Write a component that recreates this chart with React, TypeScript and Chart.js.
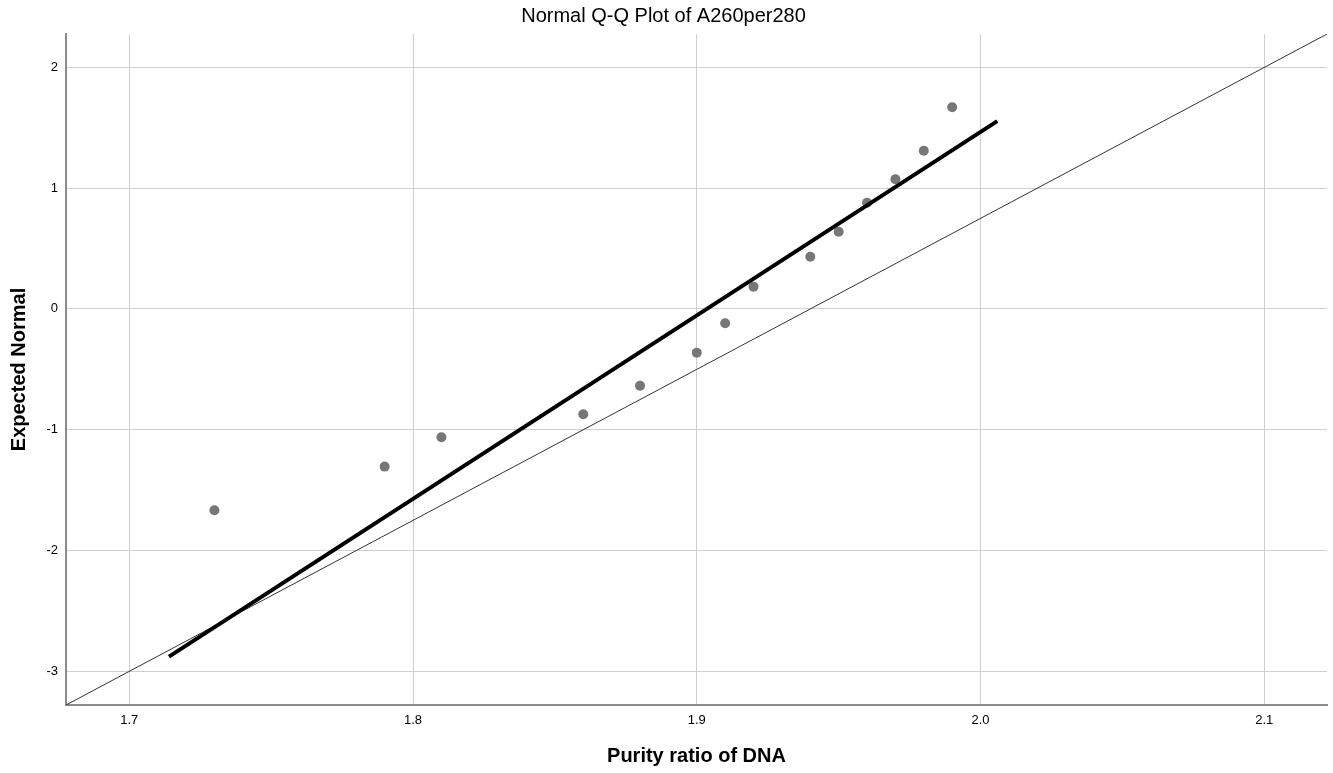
import React, { useEffect, useRef } from "react";
import { Chart, registerables } from "chart.js";

Chart.register(...registerables);

const purity = [1.73, 1.79, 1.81, 1.86, 1.88, 1.9, 1.91, 1.92, 1.94, 1.95, 1.96, 1.97, 1.98, 1.99];
const expectedNormal = [-1.667, -1.306, -1.063, -0.873, -0.636, -0.363, -0.119, 0.184, 0.432, 0.639, 0.879, 1.073, 1.31, 1.669];
const fitLineX = [1.714, 2.0059];
const fitLineY = [-2.879, 1.555];
const refLineX = [1.6777, 2.1221];
const refLineY = [-3.28, 2.276];
const xTicks = [1.7, 1.8, 1.9, 2.0, 2.1];
const yTicks = [-3, -2, -1, 0, 1, 2];

const FONT = "'Liberation Sans', Arial, sans-serif";

export default function App() {
  const ref = useRef<HTMLCanvasElement | null>(null);
  useEffect(() => {
    document.body.style.margin = "0";
    const ctx = ref.current!;
    const chart = new Chart(ctx, {
      type: "scatter",
      data: {
        datasets: [
          {
            data: fitLineX.map((x, i) => ({ x, y: fitLineY[i] })),
            showLine: true,
            borderColor: "#000",
            borderWidth: 4,
            pointRadius: 0,
          },
          {
            data: refLineX.map((x, i) => ({ x, y: refLineY[i] })),
            showLine: true,
            borderColor: "#333",
            borderWidth: 1,
            pointRadius: 0,
          },
          {
            data: purity.map((x, i) => ({ x, y: expectedNormal[i] })),
            showLine: false,
            pointRadius: 5,
            pointBackgroundColor: "#777",
            pointBorderColor: "#777",
            pointBorderWidth: 0,
          },
        ],
      },
      options: {
        animation: false,
        responsive: false,
        devicePixelRatio: 1,
        layout: { padding: { left: 0, right: 6, top: 0, bottom: 0 } },
        plugins: {
          legend: { display: false },
          tooltip: { enabled: false },
          title: {
            display: true,
            text: "Normal Q-Q Plot of A260per280",
            color: "#000",
            font: { family: FONT, size: 20, weight: "normal", lineHeight: 1.2 },
            padding: { top: 4.5, bottom: 5.5 },
          },
        },
        scales: {
          x: {
            type: "linear",
            min: refLineX[0],
            max: refLineX[1],
            afterBuildTicks: (s: any) => {
              s.ticks = xTicks.map((v) => ({ value: v }));
            },
            afterFit: (s: any) => {
              s.height = 68;
            },
            grid: { color: "#cfcfcf", lineWidth: 1, drawTicks: false },
            border: { display: true, color: "#8a8a8a", width: 2 },
            ticks: {
              padding: 8,
              color: "#000",
              font: { family: FONT, size: 13 },
              maxRotation: 0,
              callback: (v: any) => Number(v).toFixed(1),
            },
            title: {
              display: true,
              text: "Purity ratio of DNA",
              color: "#000",
              font: { family: FONT, size: 20, weight: "bold", lineHeight: 1.2 },
              padding: { top: 0, bottom: 4.5 },
            },
          },
          y: {
            type: "linear",
            min: refLineY[0],
            max: refLineY[1],
            afterBuildTicks: (s: any) => {
              s.ticks = yTicks.map((v) => ({ value: v }));
            },
            afterFit: (s: any) => {
              s.width = 66;
            },
            grid: { color: "#cfcfcf", lineWidth: 1, drawTicks: false },
            border: { display: true, color: "#8a8a8a", width: 2 },
            ticks: {
              padding: 8,
              color: "#000",
              font: { family: FONT, size: 13 },
              callback: (v: any) => String(v),
            },
            title: {
              display: true,
              text: "Expected Normal",
              color: "#000",
              font: { family: FONT, size: 20, weight: "bold", lineHeight: 1.2 },
              padding: { top: 7, bottom: 0 },
            },
          },
        },
      } as any,
    });
    return () => chart.destroy();
  }, []);
  return (
    <div style={{ position: "fixed", left: 0, top: 0, width: 1333, height: 773, background: "#fff" }}>
      <canvas ref={ref} width={1333} height={773} />
    </div>
  );
}
